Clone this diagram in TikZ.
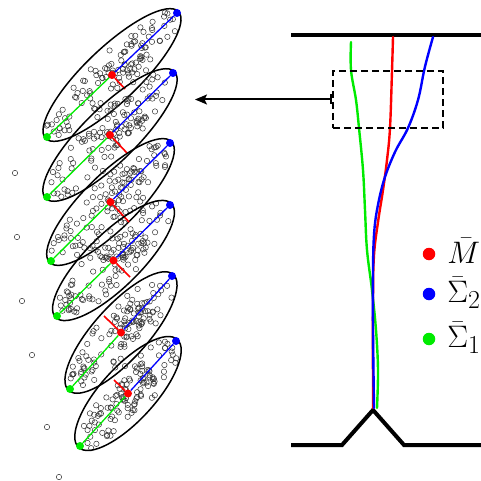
\documentclass[tikz,border=0pt]{standalone}
\usetikzlibrary{arrows.meta}
\definecolor{mygreen}{RGB}{0,235,0}
\definecolor{myblue}{RGB}{0,0,255}
\definecolor{myred}{RGB}{255,0,0}
\tikzset{
  pt/.style={draw=black!80,line width=0.5pt},
  ellout/.style={draw=black,line width=1.5pt},
  dotnode/.style={circle,inner sep=0pt,minimum size=8pt},
  axisline/.style={line width=1.3pt},
  redseg/.style={draw=myred,line width=1.6pt},
  curve/.style={line width=2.4pt,line cap=round,line join=round},
  wall/.style={line width=4pt,line join=miter},
  legdot/.style={circle,inner sep=0pt,minimum size=12.5pt},
  leglab/.style={anchor=base west,inner sep=0pt,font=\Huge,scale=1.25}
}
\newcommand\myellipse[7]{%
  \pgfmathsetmacro\cx{(#2+#4)/2}%
  \pgfmathsetmacro\cy{(#3+#5)/2}%
  \pgfmathsetmacro\ang{atan2(#3-#5,#4-#2)}%
  \pgfmathsetmacro\aa{veclen(#4-#2,#5-#3)/2+2}%
  \pgfmathsetmacro\bb{27}%
  \begin{scope}[shift={(\cx,\cy)},rotate=\ang]
    \foreach \k in {1,...,75}{%
      \pgfmathsetmacro\uu{0.9*\aa*rand}%
      \pgfmathsetmacro\vv{0.82*\bb*rand*sqrt(max(0,1-(\uu/\aa)^2))}%
      \draw[pt] (\uu,\vv) circle[radius=2.7];
    }
    \foreach \k in {1,...,40}{%
      \pgfmathsetmacro\uu{\aa*(0.18+0.3*rand)}%
      \pgfmathsetmacro\vv{\bb*0.5*rand}%
      \draw[pt] (\uu,\vv) circle[radius=2.7];
    }
    \draw[ellout] (0,0) ellipse[x radius=\aa, y radius=\bb];
  \end{scope}
  \node[dotnode,fill=myred] (r#1) at (\cx,\cy) {};
  \node[dotnode,fill=mygreen] (g#1) at (#2,#3) {};
  \node[dotnode,fill=myblue] (b#1) at (#4,#5) {};
  \coordinate (m#1) at (#6,#7);
  \draw[axisline,draw=mygreen] (r#1) -- (g#1);
  \draw[axisline,draw=myblue] (r#1) -- (b#1);
  \draw[redseg] (r#1) -- (m#1);
}
\begin{document}
\begin{tikzpicture}[x=1pt,y=-1pt]
\useasboundingbox (0,0) rectangle (481,481);
\pgfmathsetseed{12345}
% ellipses
\myellipse{1}{47}{137}{177}{13}{125}{89}
\myellipse{2}{47}{197}{173}{73}{127}{153}
\myellipse{3}{51}{261}{170}{143}{129}{222}
\myellipse{4}{57}{316}{170}{205}{130}{277}
\myellipse{5}{70}{389}{172}{276}{104}{316}
\myellipse{6}{80}{446}{176}{341}{114}{380}
% outliers
\foreach \p in {(15,173),(17,237),(22,301),(32,355),(47,427),(59,477)}
  \draw[pt] \p circle[radius=2.7];
% right: walls
\draw[wall] (291,35) -- (481,35);
\draw[wall] (291,445) -- (342,445) -- (373,410) -- (404,445) -- (481,445);
% curves
\draw[curve,draw=mygreen] plot[smooth,tension=0.6] coordinates {(351,42) (351,70) (356,100) (359,128) (363,170) (365,210) (367,250) (372,290) (376,330) (378,370) (377,408)};
\draw[curve,draw=myred] plot[smooth,tension=0.6] coordinates {(393,37) (392,71) (390,128) (387,160) (383,190) (378,222) (374,255) (373,300) (373,408)};
\draw[curve,draw=myblue] plot[smooth,tension=0.6] coordinates {(433,37) (428,55) (424,71) (418,100) (408,128) (395,152) (384,180) (377,210) (374,235) (373,270) (373,330) (374,408)};
% dashed box and arrow
\node[draw,dash pattern=on 7pt off 4pt,line width=1.5pt,minimum width=110pt,minimum height=57pt,inner sep=0pt] (box) at (388,99.5) {};
\coordinate (tip) at (195,99.5);
\draw[line width=2pt,{Bar[width=10pt]}-{Stealth[length=12pt,width=10pt,inset=2.5pt]}] (box.west) -- (tip);
% legend
\node[legdot,fill=myred] (l1) at (429,254) {};
\node[legdot,fill=myblue] (l2) at (429,294) {};
\node[legdot,fill=mygreen] (l3) at (429,339) {};
\node[leglab] (t1) at (447,263) {$\bar{M}$};
\node[leglab] (t2) at (447,302) {$\bar{\Sigma}_2$};
\node[leglab] (t3) at (447,347) {$\bar{\Sigma}_1$};
\end{tikzpicture}
\end{document}
